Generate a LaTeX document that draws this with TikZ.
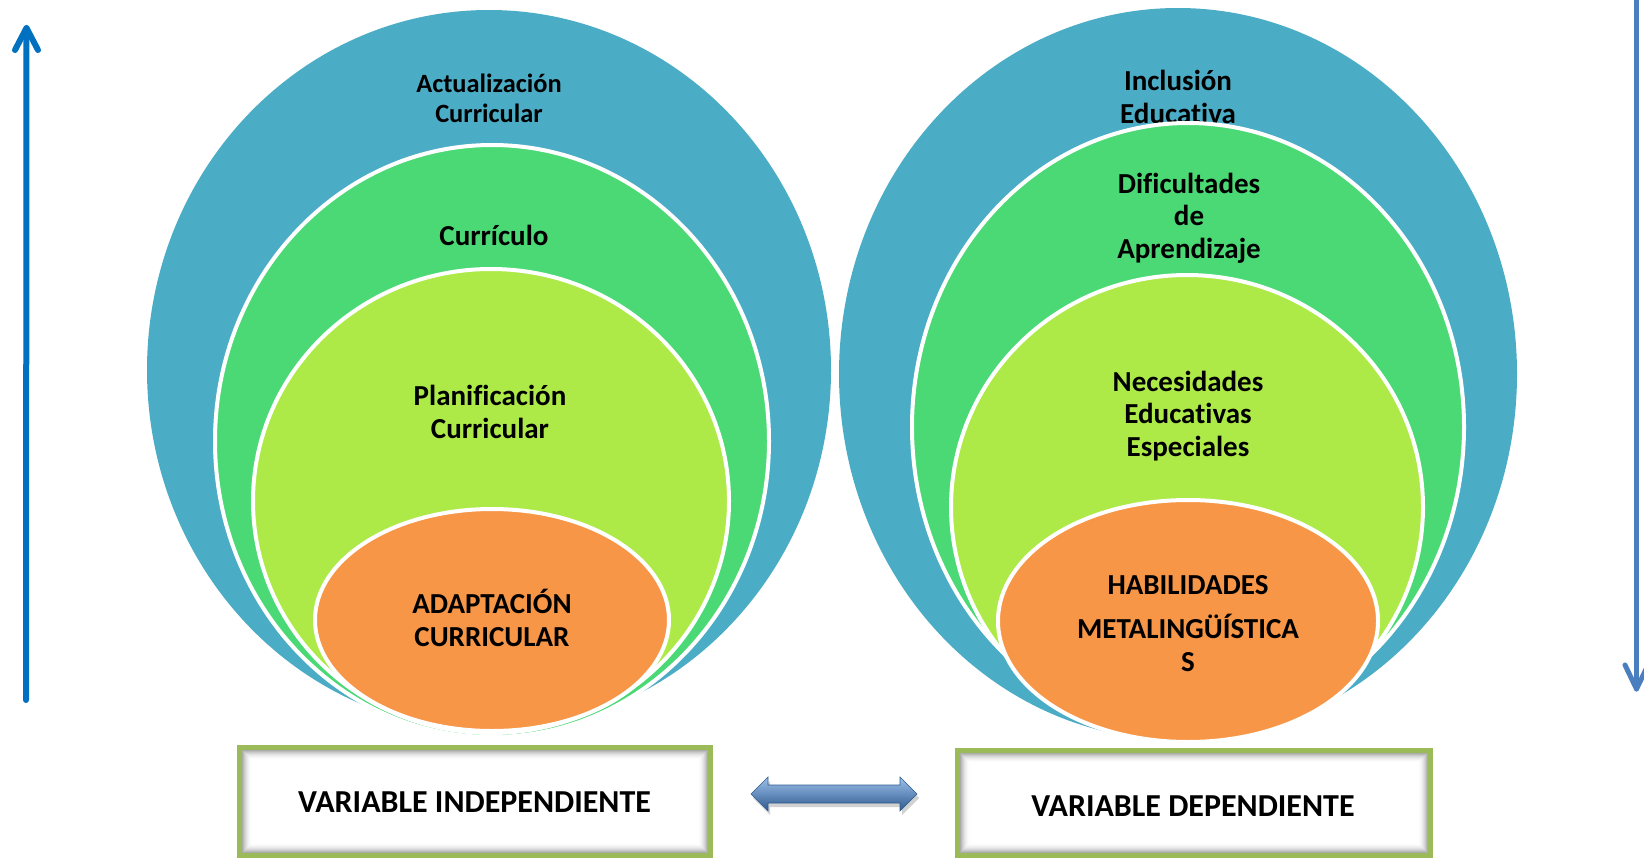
\documentclass[tikz,border=0pt]{standalone}
\usepackage{fontspec}
\setmainfont{Carlito}[Ligatures=NoCommon]
\usetikzlibrary{calc}
\definecolor{cblue}{HTML}{4BACC6}
\definecolor{cgreen}{HTML}{4BD975}
\definecolor{clime}{HTML}{ADEA48}
\definecolor{corange}{HTML}{F79646}
\definecolor{cbox}{HTML}{9BBB59}
\definecolor{arrL}{HTML}{0070C0}
\definecolor{arrR}{HTML}{4A7EBF}
\definecolor{dal}{HTML}{9CC0EC}
\definecolor{dam}{HTML}{4F81BD}
\definecolor{dad}{HTML}{2E5A8E}
\begin{document}
\begin{tikzpicture}[x=1pt,y=-1pt,
  ring/.style={draw=white, line width=4pt},
  lbl/.style={font=\bfseries\fontsize{29pt}{32.5pt}\selectfont, align=center, inner sep=0pt, text=black},
  lblsmall/.style={font=\bfseries\fontsize{26.4pt}{30pt}\selectfont, align=center, inner sep=0pt, text=black},
  varbox/.style={draw=cbox, line width=5pt, fill=white, inner sep=0pt,
    path picture={
      \foreach \i [evaluate=\i as \g using {40*(1-\i/11)^2}] in {0,...,10}{
        \draw[black!\g, line width=1.2pt]
          ($(path picture bounding box.north west)+(\i+2.5,\i+2.5)$) rectangle
          ($(path picture bounding box.south east)+(-\i-2.5,-\i-2.5)$);
      }}},
  boxtxt/.style={font=\bfseries\fontsize{32pt}{36pt}\selectfont, inner sep=0pt, text=black},
  vleft/.style={draw=arrL, line width=6pt, line cap=round, line join=round},
  vright/.style={draw=arrR, line width=5pt, line cap=round, line join=round}
]
\useasboundingbox (0,0) rectangle (1644,859);

% ---------- left group ----------
\fill[cblue] (489,370) ellipse [x radius=342pt, y radius=360pt];
\node[lblsmall] (actual) at (489,98) {Actualización\\Curricular};
\filldraw[ring, fill=cgreen] (492,441) ellipse [x radius=277pt, y radius=296pt];
\node[lbl] (curric) at (494,235) {Currículo};
\filldraw[ring, fill=clime] (491,501) ellipse [x radius=238pt, y radius=232pt];
\node[lbl] (planif) at (490,412) {Planificación\\Curricular};
\filldraw[ring, fill=corange] (492,620) ellipse [x radius=177pt, y radius=111pt];
\node[lbl] (adapt) at (492,618) {ADAPTACIÓN\\CURRICULAR};

% ---------- right group ----------
\fill[cblue] (1178,374) ellipse [x radius=339pt, y radius=366pt];
\node[lbl] (inclus) at (1178,97) {Inclusión\\Educativa};
\filldraw[ring, fill=cgreen] (1188,427) ellipse [x radius=276pt, y radius=304pt];
\node[lbl] (dificul) at (1189,218) {Dificultades\\de\\Aprendizaje};
\filldraw[ring, fill=clime] (1187,507) ellipse [x radius=236pt, y radius=232pt];
\node[lbl] (neces) at (1188,416) {Necesidades\\Educativas\\Especiales};
\filldraw[ring, fill=corange] (1188,621) ellipse [x radius=190pt, y radius=121pt];
\node[lbl] (habil) at (1188,585) {HABILIDADES};
\node[lbl] (metal) at (1188,643) {METALINGÜÍSTICA\\S};

% ---------- variable boxes ----------
\node[varbox, minimum width=471pt, minimum height=108pt] (vi) at (475,801.5) {};
\node[boxtxt] (vitxt) at (474.5,802.5) {VARIABLE INDEPENDIENTE};
\node[varbox, minimum width=473pt, minimum height=105pt] (vd) at (1194,803) {};
\node[boxtxt] (vdtxt) at (1193,806.5) {VARIABLE DEPENDIENTE};

% ---------- double arrow ----------
\coordinate (dl) at (751,794);
\coordinate (dr) at (917,794);
\fill[black, opacity=0.18] ($(dl)+(2,4)$) -- ++(17,-17) -- ++(0,8) -- ++(132,0) -- ++(0,-8) -- ($(dr)+(2,4)$) -- ++(-17,17) -- ++(0,-8) -- ++(-132,0) -- ++(0,8) -- cycle;
\shade[top color=dal, middle color=dam, bottom color=dad, draw=dad, line width=0.6pt]
  (dl) -- ++(17,-17) -- ++(0,8) -- ++(132,0) -- ++(0,-8) -- (dr) -- ++(-17,17) -- ++(0,-8) -- ++(-132,0) -- ++(0,8) -- cycle;

% ---------- vertical arrows ----------
\coordinate (la1) at (26,700);
\coordinate (la2) at (26.5,28);
\draw[vleft] (la1) -- (la2);
\draw[vleft] ($(la2)+(-11.5,22)$) -- (la2) -- ($(la2)+(11.5,22)$);

\coordinate (ra1) at (1636.5,-3);
\coordinate (ra2) at (1636.5,689);
\draw[vright] (ra1) -- (ra2);
\draw[vright] ($(ra2)+(-11.5,-24)$) -- (ra2) -- ($(ra2)+(11.5,-24)$);
\end{tikzpicture}
\end{document}
